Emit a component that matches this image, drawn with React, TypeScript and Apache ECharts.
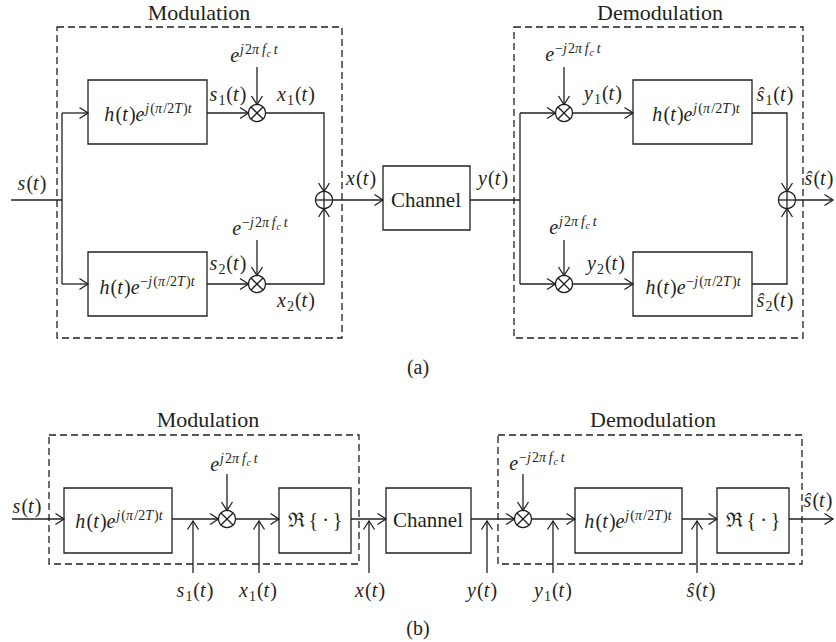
import React, { useEffect, useRef } from 'react';
import * as echarts from 'echarts';

const FONT = 'Liberation Serif';
const INK = '#231f20';
const LW = 1.3;

// ---- texts (data of the diagram) ----
const TITLES = ['Modulation', 'Demodulation'];
const PANEL_TAGS = ['(a)', '(b)'];
const CHANNEL_LABEL = 'Channel';
const REAL_OP = 'ℜ\u2009{\u2009·\u2009}';

type Lvl = 0 | 1 | 2 | -1 | 3 | 4;
type Tok = [string, 'i' | 'r', Lvl];

// level 3 = titles, level 4 = block words
const SIZE: Record<string, number> = { '0': 20, '1': 14, '2': 10, '-1': 14, '3': 22, '4': 21 };
const RAISE: Record<string, number> = { '0': 0, '1': -8, '2': -5, '-1': 4, '3': 0, '4': 0 };

const sig = (name: string, sub?: string): Tok[] => {
  const t: Tok[] = [[name, 'i', 0]];
  if (sub) t.push([sub, 'r', -1]);
  t.push(['(', 'r', 0], ['t', 'i', 0], [')', 'r', 0]);
  return t;
};
const carrier = (neg: boolean): Tok[] => {
  const t: Tok[] = [['e', 'i', 0]];
  if (neg) t.push(['−', 'r', 1]);
  t.push(['j', 'i', 1], ['2', 'r', 1], ['π\u2009', 'i', 1], ['f', 'i', 1], ['c', 'i', 2], ['\u2009t', 'i', 1]);
  return t;
};
const filterExp = (neg: boolean): Tok[] => {
  const t: Tok[] = [['h', 'i', 0], ['(', 'r', 0], ['t', 'i', 0], [')', 'r', 0], ['e', 'i', 0]];
  if (neg) t.push(['−', 'r', 1]);
  t.push(['j', 'i', 1], ['(', 'r', 1], ['π', 'i', 1], ['/2', 'r', 1], ['T', 'i', 1], [')', 'r', 1], ['t', 'i', 1]);
  return t;
};
const roman = (s: string, lvl: Lvl = 3): Tok[] => [[s, 'r', lvl]];

const LABEL_S = sig('s');
const LABEL_S1 = sig('s', '1');
const LABEL_S2 = sig('s', '2');
const LABEL_X = sig('x');
const LABEL_X1 = sig('x', '1');
const LABEL_X2 = sig('x', '2');
const LABEL_Y = sig('y');
const LABEL_Y1 = sig('y', '1');
const LABEL_Y2 = sig('y', '2');
const LABEL_SH = sig('ŝ');
const LABEL_SH1 = sig('ŝ', '1');
const LABEL_SH2 = sig('ŝ', '2');
const CARRIER_POS = carrier(false);
const CARRIER_NEG = carrier(true);
const FILTER_POS = filterExp(false);
const FILTER_NEG = filterExp(true);

// ---- drawing helpers ----
let ctx: CanvasRenderingContext2D | null = null;
function measure(s: string, kind: 'i' | 'r', size: number) {
  if (!ctx) ctx = document.createElement('canvas').getContext('2d');
  ctx!.font = `${kind === 'i' ? 'italic ' : ''}${size}px "${FONT}"`;
  return ctx!.measureText(s).width;
}

function mathText(out: any[], xc: number, base: number, toks: Tok[]) {
  const w = toks.map(([s, k, l]) => measure(s, k, SIZE[String(l)]));
  const pos: number[] = [];
  let total = 0;
  toks.forEach((t, i) => {
    pos.push(total);
    let g = 0;
    const nx = toks[i + 1];
    if (nx && t[1] === 'i' && nx[1] === 'r' && nx[2] <= t[2]) g = 1.2;
    if (nx && nx[2] > t[2]) g = 0.8;
    total += w[i] + g;
  });
  const x0 = xc - total / 2;
  toks.forEach(([s, k, l], i) => {
    const size = SIZE[String(l)];
    const b = base + RAISE[String(l)];
    out.push({
      type: 'text',
      x: x0 + pos[i],
      y: b - 0.34 * size,
      silent: true,
      style: {
        text: s,
        fontFamily: FONT,
        fontSize: size,
        fontStyle: k === 'i' ? 'italic' : 'normal',
        fill: INK,
        align: 'left',
        verticalAlign: 'middle',
      },
    });
  });
}

const line = (out: any[], x1: number, y1: number, x2: number, y2: number) =>
  out.push({ type: 'line', silent: true, shape: { x1, y1, x2, y2 }, style: { stroke: INK, lineWidth: LW } });

const poly = (out: any[], pts: number[][]) =>
  out.push({ type: 'polyline', silent: true, shape: { points: pts }, style: { stroke: INK, fill: 'none', lineWidth: LW } });

function arrow(out: any[], pts: number[][]) {
  poly(out, pts);
  const [x2, y2] = pts[pts.length - 1];
  const [x1, y1] = pts[pts.length - 2];
  const len = Math.hypot(x2 - x1, y2 - y1);
  const dx = (x2 - x1) / len, dy = (y2 - y1) / len;
  const L = 8.5, W = 5.5;
  poly(out, [
    [x2 - L * dx - W * dy, y2 - L * dy + W * dx],
    [x2, y2],
    [x2 - L * dx + W * dy, y2 - L * dy - W * dx],
  ]);
}

const box = (out: any[], x: number, y: number, w: number, h: number) =>
  out.push({ type: 'rect', silent: true, shape: { x, y, width: w, height: h }, style: { fill: 'none', stroke: INK, lineWidth: LW } });

const dashed = (out: any[], x: number, y: number, w: number, h: number) =>
  out.push({ type: 'rect', silent: true, shape: { x, y, width: w, height: h }, style: { fill: 'none', stroke: INK, lineWidth: LW, lineDash: [7, 4] } });

const R = 8.5;
function mult(out: any[], cx: number, cy: number) {
  out.push({ type: 'circle', silent: true, shape: { cx, cy, r: R }, style: { fill: '#fff', stroke: INK, lineWidth: LW } });
  const d = R * 0.707;
  line(out, cx - d, cy - d, cx + d, cy + d);
  line(out, cx - d, cy + d, cx + d, cy - d);
}
function adder(out: any[], cx: number, cy: number) {
  out.push({ type: 'circle', silent: true, shape: { cx, cy, r: R }, style: { fill: '#fff', stroke: INK, lineWidth: LW } });
  line(out, cx - R, cy, cx + R, cy);
  line(out, cx, cy - R, cx, cy + R);
}

function buildElements() {
  const o: any[] = [];

  // ================= (a) =================
  const yT = 113, yM = 200, yB = 284;
  dashed(o, 57, 27, 285, 311);
  dashed(o, 514, 27, 289, 311);
  mathText(o, 199, 20, roman(TITLES[0]));
  mathText(o, 660, 20, roman(TITLES[1]));

  // input & split
  line(o, 11, yM, 62, yM);
  line(o, 62, yT, 62, yB);
  arrow(o, [[62, yT], [88, yT]]);
  arrow(o, [[62, yB], [88, yB]]);
  mathText(o, 32, 190, LABEL_S);

  // modulation filters
  box(o, 88, 80, 119, 64);
  box(o, 88, 252, 119, 64);
  mathText(o, 148, 121, FILTER_POS);
  mathText(o, 147, 294, FILTER_NEG);

  // mixers
  arrow(o, [[207, yT], [257 - R, yT]]);
  arrow(o, [[207, yB], [257 - R, yB]]);
  mult(o, 257, yT);
  mult(o, 257, yB);
  arrow(o, [[257, 67], [257, yT - R]]);
  arrow(o, [[257, 240], [257, yB - R]]);
  mathText(o, 254, 62, CARRIER_POS);
  mathText(o, 260, 235, CARRIER_NEG);
  mathText(o, 228, 101, LABEL_S1);
  mathText(o, 228, 270, LABEL_S2);
  mathText(o, 296, 101, LABEL_X1);
  mathText(o, 296, 307, LABEL_X2);

  // summation
  arrow(o, [[257 + R, yT], [324, yT], [324, yM - R]]);
  arrow(o, [[257 + R, yB], [324, yB], [324, yM + R]]);
  adder(o, 324, yM);
  arrow(o, [[324 + R, yM], [383, yM]]);
  mathText(o, 361, 185, LABEL_X);

  // channel
  box(o, 383, 166, 87, 64);
  mathText(o, 426, 207, roman(CHANNEL_LABEL, 4));
  line(o, 470, yM, 520, yM);
  mathText(o, 493, 185, LABEL_Y);

  // demodulation
  line(o, 520, yT, 520, yB);
  arrow(o, [[520, yT], [564 - R, yT]]);
  arrow(o, [[520, yB], [564 - R, yB]]);
  mult(o, 564, yT);
  mult(o, 564, yB);
  arrow(o, [[564, 67], [564, yT - R]]);
  arrow(o, [[564, 240], [564, yB - R]]);
  mathText(o, 573, 61, CARRIER_NEG);
  mathText(o, 573, 234, CARRIER_POS);
  arrow(o, [[564 + R, yT], [633, yT]]);
  arrow(o, [[564 + R, yB], [633, yB]]);
  mathText(o, 603, 100, LABEL_Y1);
  mathText(o, 606, 270, LABEL_Y2);
  box(o, 633, 80, 119, 64);
  box(o, 633, 252, 119, 64);
  mathText(o, 696, 121, FILTER_POS);
  mathText(o, 693, 294, FILTER_NEG);
  arrow(o, [[752, yT], [787, yT], [787, yM - R]]);
  arrow(o, [[752, yB], [787, yB], [787, yM + R]]);
  mathText(o, 775, 101, LABEL_SH1);
  mathText(o, 775, 307, LABEL_SH2);
  adder(o, 787, yM);
  arrow(o, [[787 + R, yM], [833, yM]]);
  mathText(o, 819, 185, LABEL_SH);

  mathText(o, 418, 374, roman(PANEL_TAGS[0], 0));

  // ================= (b) =================
  const y = 519;
  const yLab = 597;
  dashed(o, 49, 435, 310, 129);
  dashed(o, 498, 435, 304, 129);
  mathText(o, 208, 427, roman(TITLES[0]));
  mathText(o, 653, 427, roman(TITLES[1]));

  arrow(o, [[12, y], [64, y]]);
  mathText(o, 27, 513, LABEL_S);
  box(o, 64, 488, 108, 65);
  mathText(o, 119, 528, FILTER_POS);
  arrow(o, [[172, y], [227 - R, y]]);
  mult(o, 227, y);
  arrow(o, [[227, 474], [227, y - R]]);
  mathText(o, 234, 471, CARRIER_POS);
  arrow(o, [[227 + R, y], [279, y]]);
  box(o, 279, 488, 72, 65);
  mathText(o, 315, 527, roman(REAL_OP, 0));
  arrow(o, [[351, y], [386, y]]);
  box(o, 386, 488, 85, 65);
  mathText(o, 428, 527, roman(CHANNEL_LABEL, 4));
  arrow(o, [[471, y], [523 - R, y]]);
  mult(o, 523, y);
  arrow(o, [[523, 474], [523, y - R]]);
  mathText(o, 537, 470, CARRIER_NEG);
  arrow(o, [[523 + R, y], [575, y]]);
  box(o, 575, 488, 107, 65);
  mathText(o, 628, 528, FILTER_POS);
  arrow(o, [[682, y], [717, y]]);
  box(o, 717, 488, 72, 65);
  mathText(o, 753, 527, roman(REAL_OP, 0));
  arrow(o, [[789, y], [833, y]]);
  mathText(o, 818, 507, LABEL_SH);

  // probe arrows
  const probes: [number, Tok[], number][] = [
    [193, LABEL_S1, 195],
    [259, LABEL_X1, 258],
    [369, LABEL_X, 370],
    [487, LABEL_Y, 482],
    [553, LABEL_Y1, 553],
    [697, LABEL_SH, 701],
  ];
  probes.forEach(([px, lab, lx]) => {
    arrow(o, [[px, 573], [px, y + 2]]);
    mathText(o, lx, yLab, lab);
  });

  mathText(o, 418, 635, roman(PANEL_TAGS[1], 0));
  return o;
}

export default function App() {
  const ref = useRef<HTMLDivElement>(null);
  useEffect(() => {
    const chart = echarts.init(ref.current!, null, { renderer: 'svg' });
    chart.setOption({
      animation: false,
      backgroundColor: '#ffffff',
      graphic: { elements: buildElements() },
    });
    return () => chart.dispose();
  }, []);
  return <div ref={ref} style={{ position: 'absolute', left: 0, top: 0, width: 836, height: 642 }} />;
}
